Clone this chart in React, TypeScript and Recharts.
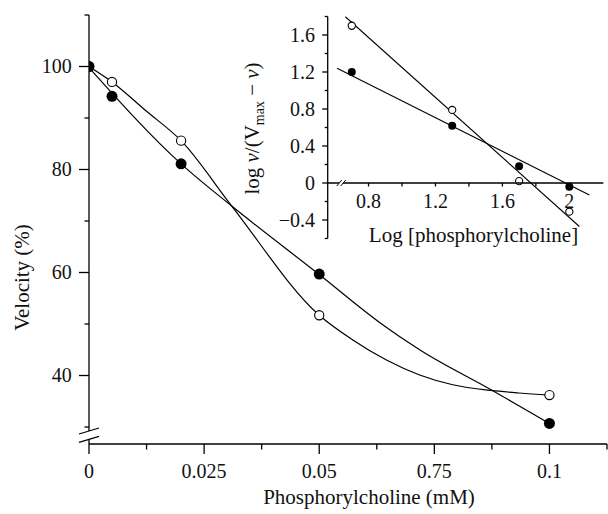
import React from 'react';
import { ComposedChart, Line, Scatter, XAxis, YAxis, ReferenceDot } from 'recharts';

const FONT = '"Liberation Serif", "Times New Roman", serif';

// ---- main chart data ----
const concentration = [0, 0.005, 0.02, 0.05, 0.1];
const velocityFilled = [100, 94.2, 81.1, 59.7, 30.7];
const velocityOpen = [100, 97.0, 85.6, 51.7, 36.2];

// fitted curves
const filledCurveX = [0, 0.02, 0.031, 0.05, 0.0631, 0.0718, 0.0876, 0.0942, 0.1];
const filledCurveY = [99.8, 81.1, 72.9, 59.6, 50.3, 45.0, 37.1, 33.7, 30.7];
const openCurveX = [0, 0.005, 0.0125, 0.02, 0.031, 0.05, 0.0573, 0.0646, 0.0718, 0.079, 0.0873, 0.0935, 0.1];
const openCurveY = [100, 97.0, 91.3, 85.6, 72.9, 51.7, 46.9, 43.0, 40.1, 38.2, 37.1, 36.6, 36.2];

const xMajorTicks = [0, 0.025, 0.05, 0.075, 0.1];
const xMajorLabels = ['0', '0.025', '0.05', '0.75', '0.1'];
const xMinorTicks = [0.0125, 0.0375, 0.0625, 0.0875, 0.1125];
const yMajorTicks = [40, 60, 80, 100];
const yMajorLabels = ['40', '60', '80', '100'];
const yMinorTicks = [30, 50, 70, 90, 110];

// ---- inset data ----
const logConc = [0.7, 1.3, 1.7, 2.0];
const logFilled = [1.2, 0.62, 0.18, -0.04];
const logOpen = [1.7, 0.79, 0.02, -0.31];
const filledFitX = [0.612, 2.12];
const filledFitY = [1.24, -0.13];
const openFitX = [0.66, 2.06];
const openFitY = [1.8, -0.47];

const insetYMajor = [-0.4, 0, 0.4, 0.8, 1.2, 1.6];
const insetYLabels = ['\u22120.4', '0', '0.4', '0.8', '1.2', '1.6'];
const insetYMinor = [-0.6, -0.2, 0.2, 0.6, 1.0, 1.4, 1.8];
const insetXMajor = [0.8, 1.2, 1.6, 2.0];
const insetXLabels = ['0.8', '1.2', '1.6', '2'];
const insetXMinor = [1.0, 1.4, 1.8];

const toPts = (xs: number[], ys: number[]) => xs.map((x, i) => ({ x, y: ys[i] }));

const filledPts = toPts(concentration, velocityFilled);
const openPts = toPts(concentration, velocityOpen);
const filledCurve = toPts(filledCurveX, filledCurveY);
const openCurve = toPts(openCurveX, openCurveY);
const insetFilledPts = toPts(logConc, logFilled);
const insetOpenPts = toPts(logConc, logOpen);
const insetFilledFit = toPts(filledFitX, filledFitY);
const insetOpenFit = toPts(openFitX, openFitY);

const sortNum = (a: number[]) => [...a].sort((p, q) => p - q);
const findIdx = (arr: number[], v: number) => arr.findIndex((t) => Math.abs(t - v) < 1e-9);

const AX = 1.3;

const makeXTick = (majors: number[], labels: string[], majorLen: number, minorLen: number, labelDy: number) =>
  (props: any) => {
    const { x, y, payload } = props;
    const i = findIdx(majors, payload.value);
    if (i < 0) {
      return <line x1={x} x2={x} y1={y} y2={y + minorLen} stroke="#000" strokeWidth={AX} />;
    }
    return (
      <g>
        <line x1={x} x2={x} y1={y} y2={y + majorLen} stroke="#000" strokeWidth={AX} />
        <text x={x} y={y + labelDy} textAnchor="middle" fontFamily={FONT} fontSize={20} fill="#111">
          {labels[i]}
        </text>
      </g>
    );
  };

const makeYTick = (majors: number[], labels: string[], majorLen: number, minorLen: number, labelDx: number) =>
  (props: any) => {
    const { x, y, payload } = props;
    const i = findIdx(majors, payload.value);
    if (i < 0) {
      return <line x1={x} x2={x - minorLen} y1={y} y2={y} stroke="#000" strokeWidth={AX} />;
    }
    return (
      <g>
        <line x1={x} x2={x - majorLen} y1={y} y2={y} stroke="#000" strokeWidth={AX} />
        <text x={x - labelDx} y={y} dy="0.34em" textAnchor="end" fontFamily={FONT} fontSize={20} fill="#111">
          {labels[i]}
        </text>
      </g>
    );
  };

const filledDot = (r: number) => (props: any) => <circle cx={props.cx} cy={props.cy} r={r} fill="#000" />;
const openDot = (r: number) => (props: any) => (
  <circle cx={props.cx} cy={props.cy} r={r} fill="#fff" stroke="#000" strokeWidth={1.1} />
);

const YBreak = (props: any) => {
  const { cx, cy } = props;
  return (
    <g>
      <polygon
        points={`${cx - 10},${cy - 1.2} ${cx + 10},${cy - 7.2} ${cx + 10},${cy + 1.2} ${cx - 10},${cy + 7.2}`}
        fill="#fff"
      />
      <line x1={cx - 10} y1={cy - 1.2} x2={cx + 10} y2={cy - 7.2} stroke="#000" strokeWidth={1.2} />
      <line x1={cx - 10} y1={cy + 7.2} x2={cx + 10} y2={cy + 1.2} stroke="#000" strokeWidth={1.2} />
    </g>
  );
};

const XBreak = (props: any) => {
  const { cx, cy } = props;
  return (
    <g>
      <polygon points={`${cx - 4.5},${cy + 3} ${cx + 0.5},${cy - 3} ${cx + 4.5},${cy - 3} ${cx - 0.5},${cy + 3}`} fill="#fff" />
      <line x1={cx - 4.5} y1={cy + 3} x2={cx + 0.5} y2={cy - 3} stroke="#000" strokeWidth={1} />
      <line x1={cx - 0.5} y1={cy + 3} x2={cx + 4.5} y2={cy - 3} stroke="#000" strokeWidth={1} />
    </g>
  );
};

const MainYLabel = (props: any) => {
  const vb = props.viewBox;
  const x = vb.x + 28.5;
  const y = vb.y + vb.height / 2 + 48;
  return (
    <text x={x} y={y} transform={`rotate(-90 ${x} ${y})`} textAnchor="middle" fontFamily={FONT} fontSize={21} fill="#111">
      Velocity (%)
    </text>
  );
};

const MainXLabel = (props: any) => {
  const vb = props.viewBox;
  const x = vb.x + vb.width / 2 + 21;
  const y = vb.y + 59.5;
  return (
    <text x={x} y={y} textAnchor="middle" fontFamily={FONT} fontSize={21} fill="#111">
      Phosphorylcholine (mM)
    </text>
  );
};

const InsetYLabel = (props: any) => {
  const vb = props.viewBox;
  const x = vb.x + vb.width - 69;
  const y = vb.y + vb.height / 2 + 1;
  return (
    <text x={x} y={y} transform={`rotate(-90 ${x} ${y})`} textAnchor="middle" fontFamily={FONT} fontSize={21} fill="#111">
      <tspan>log </tspan>
      <tspan fontStyle="italic">ν</tspan>
      <tspan>/(V</tspan>
      <tspan dy={5} fontSize={14}>max</tspan>
      <tspan dy={-5}> − </tspan>
      <tspan fontStyle="italic">ν</tspan>
      <tspan>)</tspan>
    </text>
  );
};

const InsetXLabel = (props: any) => {
  const vb = props.viewBox;
  const x = vb.x + vb.width / 2 + 8;
  const y = vb.y + 58.5;
  return (
    <text x={x} y={y} textAnchor="middle" fontFamily={FONT} fontSize={21} fill="#111">
      Log [phosphorylcholine]
    </text>
  );
};

export default function App() {
  return (
    <div style={{ position: 'absolute', left: 0, top: 0, width: 608, height: 514, background: '#fff' }}>
      {/* main chart */}
      <div style={{ position: 'absolute', left: 0, top: 0 }}>
        <ComposedChart width={608} height={514} margin={{ top: 15, right: 1, bottom: 0, left: 0 }}>
          <XAxis
            type="number"
            dataKey="x"
            domain={[0, 0.1125]}
            ticks={sortNum([...xMajorTicks, ...xMinorTicks])}
            interval={0}
            tickSize={0}
            tickMargin={0}
            tickLine={false}
            tick={makeXTick(xMajorTicks, xMajorLabels, 10, 5.5, 34)}
            axisLine={{ stroke: '#000', strokeWidth: AX }}
            height={70}
            allowDataOverflow
            label={MainXLabel}
          />
          <YAxis
            type="number"
            dataKey="y"
            domain={[26.7, 110]}
            ticks={sortNum([...yMajorTicks, ...yMinorTicks])}
            interval={0}
            tickSize={0}
            tickMargin={0}
            tickLine={false}
            tick={makeYTick(yMajorTicks, yMajorLabels, 10, 4.5, 17.3)}
            axisLine={{ stroke: '#000', strokeWidth: AX }}
            width={89}
            allowDataOverflow
            label={MainYLabel}
          />
          <Line data={openCurve} dataKey="y" type="monotone" stroke="#000" strokeWidth={1.2} dot={false} activeDot={false} isAnimationActive={false} />
          <Line data={filledCurve} dataKey="y" type="monotone" stroke="#000" strokeWidth={1.2} dot={false} activeDot={false} isAnimationActive={false} />
          <Scatter data={openPts} dataKey="y" shape={openDot(4.6)} isAnimationActive={false} />
          <Scatter data={filledPts} dataKey="y" shape={filledDot(5.5)} isAnimationActive={false} />
          <ReferenceDot x={0} y={28.4} r={0} shape={YBreak} ifOverflow="visible" />
        </ComposedChart>
      </div>

      {/* inset chart: points, lines, y axis */}
      <div style={{ position: 'absolute', left: 0, top: 0 }}>
        <ComposedChart width={608} height={240} margin={{ top: 16.5, right: 4.7, bottom: 1.5, left: 0 }}>
          <XAxis type="number" dataKey="x" domain={[0.556, 2.203]} hide allowDataOverflow />
          <YAxis
            type="number"
            dataKey="y"
            domain={[-0.6, 1.8]}
            ticks={sortNum([...insetYMajor, ...insetYMinor])}
            interval={0}
            tickSize={0}
            tickMargin={0}
            tickLine={false}
            tick={makeYTick(insetYMajor, insetYLabels, 5.5, 3, 12.7)}
            axisLine={{ stroke: '#000', strokeWidth: AX }}
            width={327.7}
            allowDataOverflow
            label={InsetYLabel}
          />
          <Line data={insetOpenFit} dataKey="y" type="linear" stroke="#000" strokeWidth={1.1} dot={false} activeDot={false} isAnimationActive={false} />
          <Line data={insetFilledFit} dataKey="y" type="linear" stroke="#000" strokeWidth={1.1} dot={false} activeDot={false} isAnimationActive={false} />
          <Scatter data={insetOpenPts} dataKey="y" shape={openDot(3.6)} isAnimationActive={false} />
          <Scatter data={insetFilledPts} dataKey="y" shape={filledDot(4)} isAnimationActive={false} />
        </ComposedChart>
      </div>

      {/* inset x axis drawn at y = 0 */}
      <div style={{ position: 'absolute', left: 0, top: 0, pointerEvents: 'none' }}>
        <ComposedChart width={608} height={253} data={insetOpenPts} margin={{ top: 16.5, right: 4.7, bottom: 0, left: 327.7 }}>
          <XAxis
            type="number"
            dataKey="x"
            domain={[0.556, 2.203]}
            ticks={sortNum([...insetXMajor, ...insetXMinor])}
            interval={0}
            tickSize={0}
            tickMargin={0}
            tickLine={false}
            tick={makeXTick(insetXMajor, insetXLabels, 3.5, 3.5, 25)}
            axisLine={{ stroke: '#000', strokeWidth: AX }}
            height={70}
            allowDataOverflow
            label={InsetXLabel}
          />
          <YAxis type="number" dataKey="y" domain={[0, 1.8]} hide allowDataOverflow />
          <ReferenceDot x={0.637} y={0} r={0} shape={XBreak} ifOverflow="visible" />
        </ComposedChart>
      </div>
    </div>
  );
}
